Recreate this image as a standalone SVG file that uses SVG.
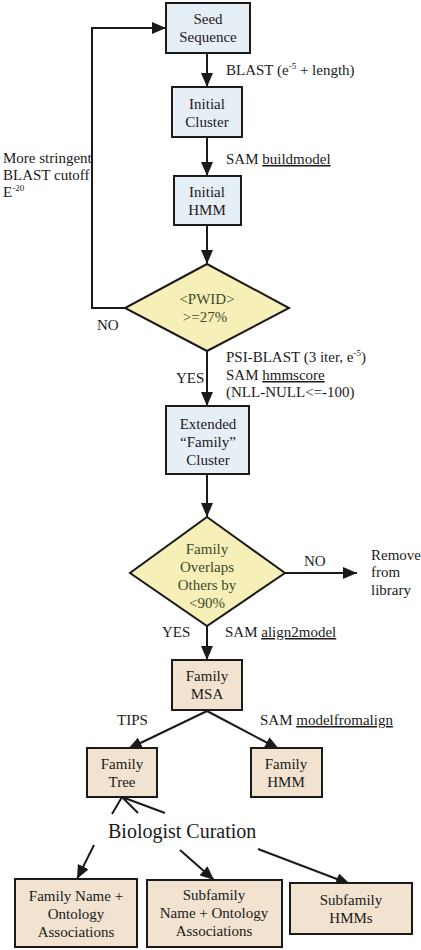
<svg xmlns="http://www.w3.org/2000/svg" width="421" height="950" viewBox="0 0 421 950" font-family="'Liberation Serif', 'DejaVu Serif', serif">
<style>
text{font-family:'Liberation Serif','DejaVu Serif',serif;font-size:15px;fill:#1a1a1a}
.c{text-anchor:middle}
.d{fill:#3e4a2c}
.u{text-decoration:underline}
.sup{font-size:9px}
.blue{fill:#e6eef6;stroke:#1a1a1a;stroke-width:2}
.tan{fill:#f1e3cf;stroke:#1a1a1a;stroke-width:2}
.dia{fill:#f6f0b8;stroke:#1a1a1a;stroke-width:2}
.ln{fill:none;stroke:#1a1a1a;stroke-width:2}
</style>
<defs>
<marker id="ah" viewBox="0 0 14 12" refX="14" refY="6" markerWidth="14" markerHeight="12" markerUnits="userSpaceOnUse" orient="auto">
<path d="M0,0 L14,6 L0,12 z" fill="#1a1a1a"/>
</marker>
</defs>
<g id="connectors">
<path class="ln" d="M125,308 H92 V28 H166" marker-end="url(#ah)"/>
<path class="ln" d="M207,53 V87" marker-end="url(#ah)"/>
<path class="ln" d="M207,137 V176" marker-end="url(#ah)"/>
<path class="ln" d="M207,225 V264" marker-end="url(#ah)"/>
<path class="ln" d="M207,351 V406" marker-end="url(#ah)"/>
<path class="ln" d="M207,474 V517" marker-end="url(#ah)"/>
<path class="ln" d="M285,573 H357" marker-end="url(#ah)"/>
<path class="ln" d="M207,626 V660" marker-end="url(#ah)"/>
<path class="ln" d="M207,711 L128,749" marker-end="url(#ah)"/>
<path class="ln" d="M207,711 L279,749" marker-end="url(#ah)"/>
<path class="ln" d="M112,814 L122,797 M138,813 L122,797 M165,813 L122,797"/>
<path class="ln" d="M94,845 L77,879" marker-end="url(#ah)"/>
<path class="ln" d="M180,850 L214,880" marker-end="url(#ah)"/>
<path class="ln" d="M258,849 L350,884" marker-end="url(#ah)"/>
</g>
<g id="labels">
<text x="3" y="163">More stringent</text>
<text x="3" y="180">BLAST cutoff</text>
<text x="3" y="197">E<tspan class="sup" dy="-6">-20</tspan></text>
<text x="226" y="75">BLAST (e<tspan class="sup" dy="-6">-5</tspan><tspan dy="6"> + length)</tspan></text>
<text x="226" y="164">SAM <tspan class="u">buildmodel</tspan></text>
<text x="97" y="330">NO</text>
<text x="226" y="362">PSI-BLAST (3 iter, e<tspan class="sup" dy="-6">-5</tspan><tspan dy="6">)</tspan></text>
<text x="226" y="380">SAM <tspan class="u">hmmscore</tspan></text>
<text x="226" y="397">(NLL-NULL&lt;=-100)</text>
<text x="176" y="383">YES</text>
<text x="304" y="566">NO</text>
<text x="371" y="560">Remove</text>
<text x="371" y="577">from</text>
<text x="371" y="595">library</text>
<text x="162" y="637">YES</text>
<text x="225" y="637">SAM <tspan class="u">align2model</tspan></text>
<text x="117" y="725">TIPS</text>
<text x="260" y="725">SAM <tspan class="u">modelfromalign</tspan></text>
<text x="108" y="838" style="font-size:20px">Biologist Curation</text>
</g>
<g id="seed"><rect class="blue" x="166" y="3" width="84" height="50"/><text class="c" x="208" y="24">Seed</text><text class="c" x="208" y="42">Sequence</text></g>
<g id="initial-cluster"><rect class="blue" x="172" y="87" width="70" height="50"/><text class="c" x="207" y="109">Initial</text><text class="c" x="207" y="127">Cluster</text></g>
<g id="initial-hmm"><rect class="blue" x="174" y="176" width="67" height="49"/><text class="c" x="207" y="197">Initial</text><text class="c" x="207" y="215">HMM</text></g>
<g id="pwid"><polygon class="dia" points="207,264 289,308 207,351 125,308"/><text class="c d" x="207" y="304">&lt;PWID&gt;</text><text class="c d" x="205" y="322">&gt;=27%</text></g>
<g id="extended"><rect class="blue" x="166" y="406" width="83" height="68"/><text class="c" x="208" y="429">Extended</text><text class="c" x="208" y="447">“Family”</text><text class="c" x="208" y="465">Cluster</text></g>
<g id="overlap"><polygon class="dia" points="207,517 285,573 207,626 130,573"/><text class="c d" x="207" y="554">Family</text><text class="c d" x="207" y="572">Overlaps</text><text class="c d" x="207" y="590">Others by</text><text class="c d" x="207" y="608">&lt;90%</text></g>
<g id="family-msa"><rect class="tan" x="172" y="660" width="70" height="50"/><text class="c" x="207" y="681">Family</text><text class="c" x="207" y="699">MSA</text></g>
<g id="family-tree"><rect class="tan" x="87" y="748" width="70" height="49"/><text class="c" x="122" y="769">Family</text><text class="c" x="122" y="787">Tree</text></g>
<g id="family-hmm"><rect class="tan" x="251" y="748" width="71" height="49"/><text class="c" x="286" y="769">Family</text><text class="c" x="286" y="787">HMM</text></g>
<g id="family-name"><rect class="tan" x="15" y="879" width="122" height="68"/><text class="c" x="76" y="901">Family Name +</text><text class="c" x="76" y="919">Ontology</text><text class="c" x="76" y="937">Associations</text></g>
<g id="subfamily-name"><rect class="tan" x="147" y="880" width="135" height="67"/><text class="c" x="214" y="900">Subfamily</text><text class="c" x="214" y="918">Name + Ontology</text><text class="c" x="214" y="936">Associations</text></g>
<g id="subfamily-hmms"><rect class="tan" x="290" y="883" width="122" height="51"/><text class="c" x="351" y="905">Subfamily</text><text class="c" x="351" y="923">HMMs</text></g>
</svg>
